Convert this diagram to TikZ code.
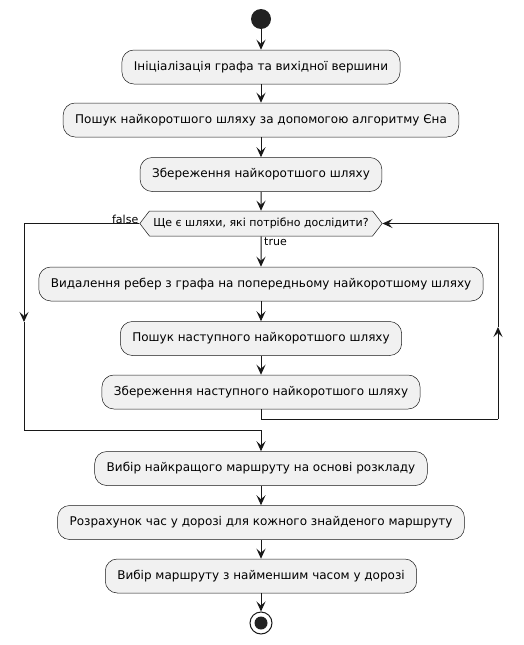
\documentclass[tikz,border=0pt]{standalone}
\usepackage{fontspec}
\setmainfont{DejaVu Sans}
\usetikzlibrary{arrows.meta, shapes.symbols}
\definecolor{umlline}{HTML}{181818}
\definecolor{umlfill}{HTML}{F1F1F1}
\definecolor{umldot}{HTML}{222222}

\begin{document}
\begin{tikzpicture}[x=1pt, y=-1pt,
        action/.style={draw=umlline, line width=0.5pt, fill=umlfill, rounded corners=12pt, minimum height=34pt, inner xsep=12pt, font=\fontsize{12}{14}\selectfont},
        decision/.style={draw=umlline, line width=0.5pt, fill=umlfill, shape=signal, signal to=east and west, signal pointer angle=105, minimum height=25pt, inner xsep=4pt, inner ysep=2pt, font=\fontsize{11}{13}\selectfont},
        lbl/.style={inner sep=1pt, font=\fontsize{11}{13}\selectfont},
        line/.style={draw=umlline, line width=1pt},
        flow/.style={line, -{Stealth[length=10pt, width=9pt, inset=4pt]}}
    ]
        \useasboundingbox (0,0) rectangle (523,645);

        % Start
        \node[circle, fill=umldot, minimum size=20pt, inner sep=0pt] (start) at (261,19) {};

        \node[action] (init) at (261,67) {Ініціалізація графа та вихідної вершини};
        \node[action] (first) at (261,120) {Пошук найкоротшого шляху за допомогою алгоритму Єна};
        \node[action] (savefirst) at (261,174.5) {Збереження найкоротшого шляху};

        % Loop
        \node[decision] (check) at (261,223.5) {Ще є шляхи, які потрібно дослідити?};
        \node[lbl, anchor=south east] (falselbl) at ([yshift=-1pt]check.west) {false};
        \node[lbl, anchor=north west] (truelbl) at ([xshift=2pt]check.south) {true};

        \node[action] (remove) at (261,284) {Видалення ребер з графа на попередньому найкоротшому шляху};
        \node[action] (next) at (261,338.5) {Пошук наступного найкоротшого шляху};
        \node[action] (savenext) at (261,392) {Збереження наступного найкоротшого шляху};

        \coordinate (backdown) at (261,419);
        \coordinate (backright) at (498,419);
        \coordinate (backmid) at (498,327);
        \coordinate (leftmid) at (24,322);
        \coordinate (merge) at (261,430);

        % After loop
        \node[action] (best) at (261,468.5) {Вибір найкращого маршруту на основі розкладу};
        \node[action] (travel) at (261,522.5) {Розрахунок час у дорозі для кожного знайденого маршруту};
        \node[action] (pick) at (261,576) {Вибір маршруту з найменшим часом у дорозі};

        % End
        \node[circle, draw=umlline, line width=1pt, fill=white, minimum size=22pt, inner sep=0pt] (stop) at (261,623) {};
        \node[circle, fill=umldot, minimum size=13pt, inner sep=0pt] (stopdot) at (stop) {};

        % Connectors
        \draw[flow] (start) -- (init);
        \draw[flow] (init) -- (first);
        \draw[flow] (first) -- (savefirst);
        \draw[flow] (savefirst) -- (check);
        \draw[flow] (check) -- (remove);
        \draw[flow] (remove) -- (next);
        \draw[flow] (next) -- (savenext);
        \draw[line] (savenext.south) -- (backdown) -- (backright);
        \draw[flow] (backright) -- (backmid);
        \draw[flow] (backmid) |- (check.east);
        \draw[flow] (check.west) -| (leftmid);
        \draw[line] (leftmid) |- (merge);
        \draw[flow] (merge) -- (best);
        \draw[flow] (best) -- (travel);
        \draw[flow] (travel) -- (pick);
        \draw[flow] (pick) -- (stop);

    \end{tikzpicture}
\end{document}
